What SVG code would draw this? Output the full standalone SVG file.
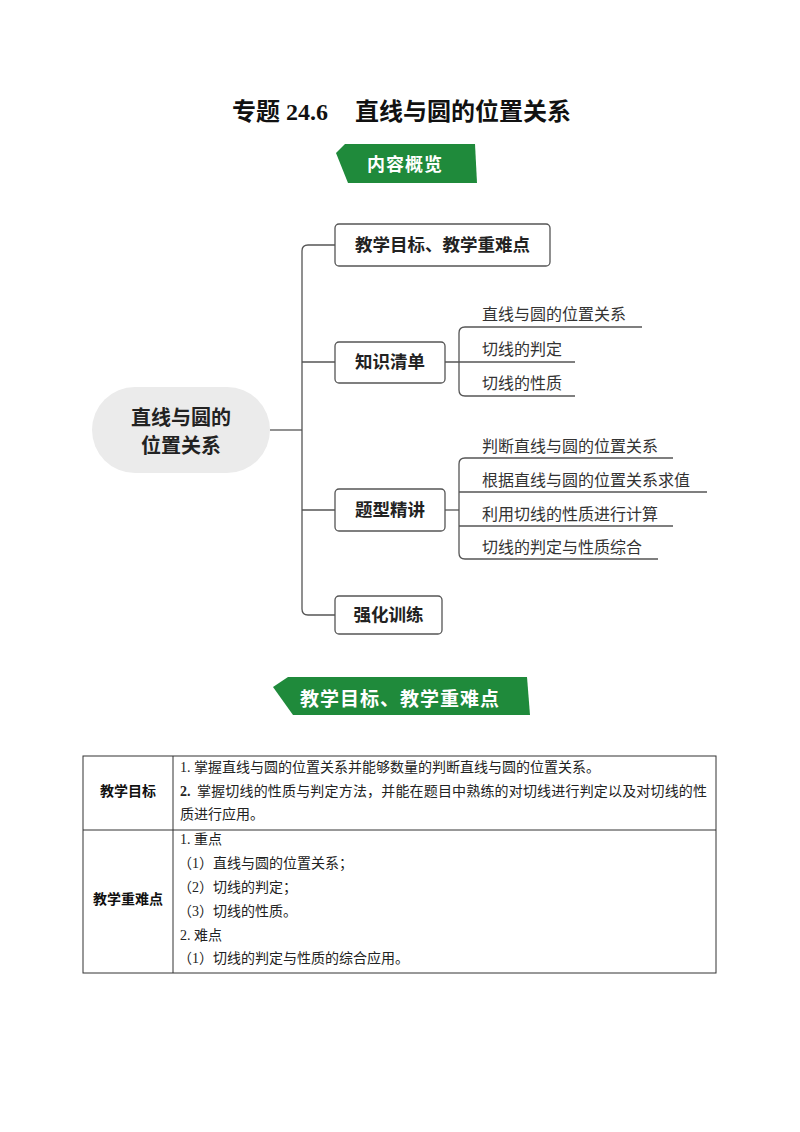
<svg xmlns="http://www.w3.org/2000/svg" width="800" height="1132" viewBox="0 0 800 1132">
<style>
.title{font-family:"Liberation Serif","Noto Sans CJK SC",serif;font-size:24px;font-weight:bold;fill:#111}
.ban{fill:#1f8a3b}
.bantxt{font-family:"Noto Sans CJK SC",sans-serif;font-size:18px;font-weight:bold;fill:#fff;text-anchor:middle}
.box{fill:#fff;stroke:#555;stroke-width:1.3}
.node{font-family:"Noto Sans CJK SC",sans-serif;font-size:17.5px;font-weight:bold;fill:#222;text-anchor:middle}
.sub{font-family:"Noto Sans CJK SC",sans-serif;font-size:16px;fill:#333}
.ln{fill:none;stroke:#555;stroke-width:1.3}
.tb{fill:none;stroke:#333;stroke-width:1}
.tt{font-family:"Liberation Serif","Noto Sans CJK SC",serif;font-size:14px;fill:#222}
.th{font-family:"Noto Sans CJK SC",sans-serif;font-size:14px;font-weight:bold;fill:#111;text-anchor:middle}
</style>
<rect width="800" height="1132" fill="#fff"/>
<text class="title" y="120"><tspan x="232">专题 24.6</tspan><tspan x="355">直线与圆的位置关系</tspan></text>
<g id="banner1">
<polygon class="ban" points="345,144 475,144 477,183 348,183 336,153"/>
<text class="bantxt" x="405" y="171" letter-spacing="1">内容概览</text>
</g>
<g id="connectors">
<path class="ln" d="M270,430 H302"/>
<path class="ln" d="M335,245 H308 Q302,245 302,251 V609 Q302,615 308,615 H335"/>
<path class="ln" d="M302,362 H335"/>
<path class="ln" d="M302,510 H335"/>
<path class="ln" d="M445,362 H575"/>
<path class="ln" d="M642,327 H465 Q459,327 459,333 V390 Q459,396 465,396 H575"/>
<path class="ln" d="M445,510 H459"/>
<path class="ln" d="M673,458 H465 Q459,458 459,464 V553 Q459,559 465,559 H658"/>
<path class="ln" d="M459,492 H707"/>
<path class="ln" d="M459,526 H673"/>
</g>
<g id="root">
<rect x="92" y="387" width="178" height="86" rx="43" fill="#ebebeb"/>
<text class="node" x="181" y="425" style="font-size:20px">直线与圆的</text>
<text class="node" x="181" y="453" style="font-size:20px">位置关系</text>
</g>
<g id="n1">
<rect class="box" x="335" y="224" width="215" height="42" rx="4"/>
<text class="node" x="442.5" y="251">教学目标、教学重难点</text>
</g>
<g id="n2">
<rect class="box" x="335" y="342" width="110" height="41" rx="4"/>
<text class="node" x="390" y="368">知识清单</text>
</g>
<g id="n3">
<rect class="box" x="335" y="489" width="110" height="42" rx="4"/>
<text class="node" x="390" y="516">题型精讲</text>
</g>
<g id="n4">
<rect class="box" x="335" y="596" width="107" height="38" rx="4"/>
<text class="node" x="388.5" y="621">强化训练</text>
</g>
<g id="n2a"><text class="sub" x="482" y="320">直线与圆的位置关系</text></g>
<g id="n2b"><text class="sub" x="482" y="355">切线的判定</text></g>
<g id="n2c"><text class="sub" x="482" y="389">切线的性质</text></g>
<g id="n3a"><text class="sub" x="482" y="452">判断直线与圆的位置关系</text></g>
<g id="n3b"><text class="sub" x="482" y="486">根据直线与圆的位置关系求值</text></g>
<g id="n3c"><text class="sub" x="482" y="520">利用切线的性质进行计算</text></g>
<g id="n3d"><text class="sub" x="482" y="553">切线的判定与性质综合</text></g>
<g id="banner2">
<polygon class="ban" points="288,677 527,677 530,715 293,715 273,687"/>
<text class="bantxt" x="400" y="706" style="font-size:19px" letter-spacing="1">教学目标、教学重难点</text>
</g>
<g id="table">
<rect class="tb" x="83" y="756" width="633" height="217"/>
<line class="tb" x1="173" y1="756" x2="173" y2="973"/>
<line class="tb" x1="83" y1="830" x2="716" y2="830"/>
<text class="th" x="128" y="796">教学目标</text>
<text class="th" x="128" y="904">教学重难点</text>
<text class="tt" x="180" y="772">1. 掌握直线与圆的位置关系并能够数量的判断直线与圆的位置关系。</text>
<text class="tt" x="180" y="796"><tspan font-weight="bold">2.</tspan><tspan x="197" textLength="510" lengthAdjust="spacing">掌握切线的性质与判定方法，并能在题目中熟练的对切线进行判定以及对切线的性</tspan></text>
<text class="tt" x="180" y="819">质进行应用。</text>
<text class="tt" x="180" y="844">1. 重点</text>
<text class="tt" x="178" y="868">（1）直线与圆的位置关系；</text>
<text class="tt" x="178" y="892">（2）切线的判定；</text>
<text class="tt" x="178" y="916">（3）切线的性质。</text>
<text class="tt" x="180" y="940">2. 难点</text>
<text class="tt" x="178" y="963">（1）切线的判定与性质的综合应用。</text>
</g>
</svg>
